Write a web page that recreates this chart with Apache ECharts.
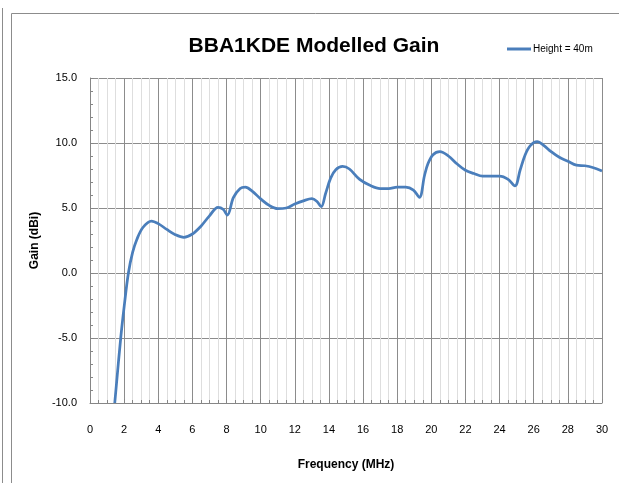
<!DOCTYPE html>
<html>
<head>
<meta charset="utf-8">
<script src="https://cdn.jsdelivr.net/npm/echarts@6/dist/echarts.min.js"></script>
<style>
    html, body { margin: 0; padding: 0; background: #fff; }
    #chart { width: 619px; height: 483px; }
</style>
</head>
<body>
<div id="chart"></div>
<script>
// frequency (MHz) and modelled gain (dBi)
const freqMHz = [1.45, 1.8, 2.0, 2.25, 2.5, 2.75, 3.1, 3.6, 4.0, 4.5, 5.0, 5.5, 6.0, 6.5, 7.0, 7.5, 7.8, 8.05,
    8.4, 8.8, 9.1, 9.5, 10.0, 10.5, 11.0, 11.5, 12.0, 12.5, 13.0, 13.3, 13.55, 13.8, 14.1, 14.4, 14.8, 15.2,
    15.8, 16.4, 17.0, 17.5, 18.0, 18.5, 18.95, 19.3, 19.6, 19.8, 20.1, 20.5, 21.0, 21.5, 22.0, 22.5, 23.0,
    23.5, 24.0, 24.5, 24.9, 25.2, 25.5, 25.8, 26.2, 26.6, 27.0, 27.5, 28.0, 28.5, 29.0, 29.5, 30.0];
const gainDbi = [-10, -5, -2.6, 0, 1.6, 2.6, 3.5, 4.0, 3.8, 3.35, 2.95, 2.75, 3.0, 3.6, 4.4, 5.05, 4.9, 4.45,
    5.8, 6.5, 6.6, 6.3, 5.7, 5.2, 4.95, 5.0, 5.3, 5.55, 5.72, 5.5, 5.1, 6.1, 7.3, 7.95, 8.2, 8.0,
    7.2, 6.75, 6.5, 6.5, 6.6, 6.6, 6.38, 5.82, 7.5, 8.4, 9.1, 9.33, 9.0, 8.4, 7.9, 7.65, 7.45,
    7.45, 7.45, 7.2, 6.7, 7.9, 9.1, 9.8, 10.1, 9.8, 9.35, 8.9, 8.6, 8.3, 8.25, 8.1, 7.85];
const seriesName = 'Height = 40m';

const font = '"Liberation Sans", Arial, sans-serif';

const chart = echarts.init(document.getElementById('chart'));

chart.setOption({
    animation: false,
    title: {
        text: 'BBA1KDE Modelled Gain',
        left: 309,
        top: 31,
        textAlign: 'center',
        textStyle: { fontFamily: font, fontSize: 21, fontWeight: 'bold', color: '#000' }
    },
    legend: {
        left: 502,
        top: 39,
        itemWidth: 24,
        itemHeight: 3,
        itemGap: 4,
        icon: 'rect',
        data: [seriesName],
        textStyle: { fontFamily: font, fontSize: 10, color: '#000', padding: [0, 0, 0, -3] }
    },
    grid: { left: 90, right: 17, top: 78, bottom: 80 },
    xAxis: {
        type: 'value',
        min: 0, max: 30, interval: 2,
        name: 'Frequency (MHz)',
        nameLocation: 'middle',
        nameGap: 56,
        nameTextStyle: { fontFamily: font, fontSize: 12, fontWeight: 'bold', color: '#000' },
        axisLine: { show: true, onZero: false, lineStyle: { color: '#868686', width: 1 } },
        axisTick: { show: true, inside: true, length: 4, lineStyle: { color: '#868686' } },
        minorTick: { show: true, splitNumber: 4, length: 3, lineStyle: { color: '#868686' } },
        axisLabel: { fontFamily: font, fontSize: 11, color: '#000', margin: 21 },
        splitLine: { show: true, lineStyle: { color: '#8c8c8c', width: 1 } },
        minorSplitLine: { show: true, lineStyle: { color: '#dedede', width: 1 } }
    },
    yAxis: {
        type: 'value',
        min: -10, max: 15, interval: 5,
        name: 'Gain (dBi)',
        nameLocation: 'middle',
        nameGap: 48,
        nameTextStyle: { fontFamily: font, fontSize: 12, fontWeight: 'bold', color: '#000' },
        axisLine: { show: true, lineStyle: { color: '#868686', width: 1 } },
        axisTick: { show: true, inside: true, length: 4, lineStyle: { color: '#868686' } },
        minorTick: { show: true, splitNumber: 5, length: 3, lineStyle: { color: '#868686' } },
        axisLabel: {
            fontFamily: font, fontSize: 11, color: '#000', margin: 13,
            formatter: function (v) { return v.toFixed(1); }
        },
        splitLine: { show: true, lineStyle: { color: '#8c8c8c', width: 1 } }
    },
    graphic: [
        { type: 'rect', shape: { x: 11.5, y: 13.5, width: 620, height: 480 },
          style: { fill: null, stroke: '#8c8c8c', lineWidth: 1 }, z: -1 },
        { type: 'line', shape: { x1: 2.5, y1: 8, x2: 2.5, y2: 483 },
          style: { stroke: '#8c8c8c', lineWidth: 1 } }
    ],
    series: [{
        name: seriesName,
        type: 'line',
        smooth: 0.35,
        showSymbol: false,
        clip: true,
        data: freqMHz.map((f, i) => [f, gainDbi[i]]),
        lineStyle: { color: '#4a7ebb', width: 2.75 },
        itemStyle: { color: '#4a7ebb' }
    }]
});
</script>
</body>
</html>
